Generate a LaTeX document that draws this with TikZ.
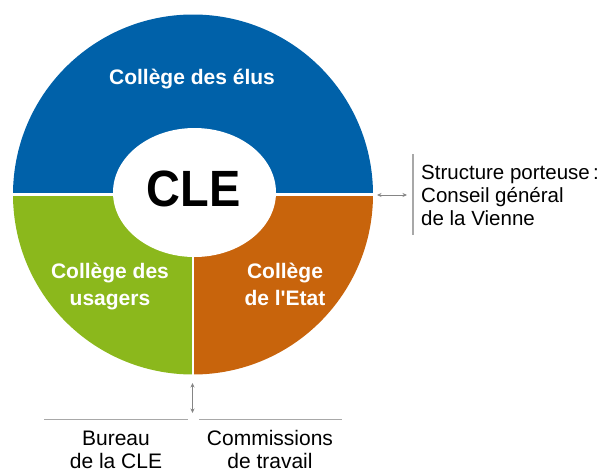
\documentclass[tikz,border=0pt]{standalone}
\usepackage{fontspec}
\usepackage{graphicx}
\setmainfont{Liberation Sans}
\usetikzlibrary{arrows.meta}
\definecolor{cblue}{HTML}{0061A9}
\definecolor{cgreen}{HTML}{8BB81C}
\definecolor{corange}{HTML}{C8640C}
\definecolor{cline}{HTML}{A8A8A8}
\definecolor{carrow}{HTML}{858585}
\begin{document}
\begin{tikzpicture}[x=1pt,y=-1pt,
  seglabel/.style={text=white,font=\fontsize{21}{25}\selectfont\bfseries,inner sep=0pt,anchor=base},
  sidetext/.style={font=\fontsize{20.5}{24}\selectfont,inner sep=0pt,anchor=base west},
  bottext/.style={font=\fontsize{21}{25}\selectfont,inner sep=0pt,anchor=base},
  link/.style={draw=carrow,line width=0.9pt,{Stealth[length=4.5pt,width=4pt]}-{Stealth[length=4.5pt,width=4pt]}},
  rulestyle/.style={draw=cline,line width=1.2pt}]
\useasboundingbox (0,0) rectangle (610,471);
\coordinate (C) at (193,194.5);
% sectors
\fill[cblue] (C) ++(180:180) arc[start angle=180,end angle=360,radius=180] -- cycle;
\fill[cgreen] (C) -- ++(180:180) arc[start angle=180,end angle=90,radius=180] -- cycle;
\fill[corange] (C) -- ++(0:180) arc[start angle=0,end angle=90,radius=180] -- cycle;
% white gaps
\coordinate (hl) at (12,194.5);
\coordinate (hr) at (374,194.5);
\coordinate (vb) at (193,375);
\draw[white,line width=2.2pt] (hl) -- (hr);
\draw[white,line width=2.2pt] (C) -- (vb);
% central ellipse
\fill[white] (194.5,192.5) ellipse[x radius=81.5,y radius=64.5];
\node[inner sep=0pt,anchor=base,font=\fontsize{51}{56}\selectfont\bfseries] (cle) at (193.5,206) {\scalebox{0.92}[1]{CLE}};
% sector labels
\node[seglabel] (elus) at (192,84) {Collège des élus};
\node[seglabel] (us1) at (110,278) {Collège des};
\node[seglabel] (us2) at (110,305) {usagers};
\node[seglabel] (et1) at (285,278) {Collège};
\node[seglabel] (et2) at (285,305) {de l\textquotesingle Etat};
% right side
\coordinate (ra) at (377,195);
\coordinate (rb) at (407,195);
\draw[link] (ra) -- (rb);
\coordinate (vt) at (413,154);
\coordinate (vbot) at (413,235);
\draw[rulestyle] (vt) -- (vbot);
\node[sidetext] (s1) at (421,179) {Structure porteuse\,:};
\node[sidetext] (s2) at (421,202) {Conseil général};
\node[sidetext] (s3) at (421,225) {de la Vienne};
% bottom
\coordinate (ba) at (192.5,383);
\coordinate (bb) at (192.5,413);
\draw[link] (ba) -- (bb);
\coordinate (l1) at (44,419.5);
\coordinate (l2) at (188,419.5);
\coordinate (r1) at (199,419.5);
\coordinate (r2) at (342,419.5);
\draw[rulestyle] (l1) -- (l2);
\draw[rulestyle] (r1) -- (r2);
\node[bottext] (b1) at (116,445) {Bureau};
\node[bottext] (b2) at (116,468) {de la CLE};
\node[bottext] (c1) at (270,445) {Commissions};
\node[bottext] (c2) at (270,468) {de travail};
\end{tikzpicture}
\end{document}
